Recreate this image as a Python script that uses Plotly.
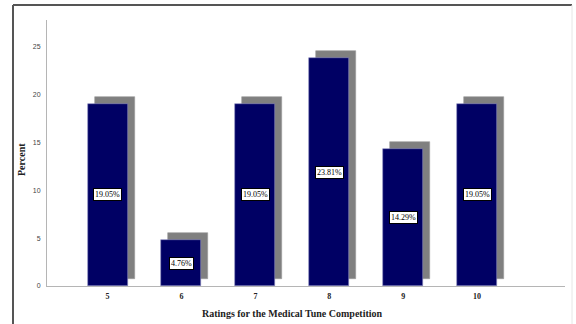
import plotly.graph_objects as go

# Ratings and their share of responses
ratings = [5, 6, 7, 8, 9, 10]
percents = [19.05, 4.76, 19.05, 23.81, 14.29, 19.05]
tick_vals = [0, 5, 10, 15, 20, 25]

x_title = "Ratings for the Medical Tune Competition"
y_title = "Percent"

W, H = 576, 324
L, R, T, B = 47, 11, 20, 38
plot_w = W - L - R
plot_h = H - T - B

x_range = [4.18, 11.19]
y_range = [0, 27.82]
px_per_x = plot_w / (x_range[1] - x_range[0])
px_per_y = plot_h / (y_range[1] - y_range[0])

bar_w = 40 / px_per_x
shadow_dx = 7 / px_per_x
shadow_dy = 7 / px_per_y

fig = go.Figure()

# drop shadow behind each bar
fig.add_trace(go.Bar(
    x=ratings, y=percents, base=[shadow_dy] * len(ratings),
    width=bar_w, offset=-bar_w / 2 + shadow_dx,
    marker=dict(color="#808080", line=dict(color="#9a9a9a", width=0.6)),
    hoverinfo="skip", showlegend=False,
))

# main bars
fig.add_trace(go.Bar(
    x=ratings, y=percents,
    width=bar_w, offset=-bar_w / 2,
    marker=dict(color="#000064", line=dict(color="#8c8cc0", width=0.6)),
    showlegend=False,
))

# value labels in the middle of each bar
for r, p in zip(ratings, percents):
    fig.add_annotation(
        x=r, y=p / 2, text=f"{p:.2f}%", showarrow=False,
        font=dict(family="Liberation Serif", size=8, color="black"),
        bgcolor="white", bordercolor="black", borderwidth=1, borderpad=1,
    )

# axis titles
fig.add_annotation(
    x=(292 - L) / plot_w, y=(H - B - 314) / plot_h, xref="paper", yref="paper",
    xanchor="center", yanchor="middle",
    text=f"<b>{x_title}</b>", showarrow=False,
    font=dict(family="Liberation Serif", size=10, color="#222"),
)
fig.add_annotation(
    x=(21 - L) / plot_w, y=(H - B - 160) / plot_h, xref="paper", yref="paper",
    xanchor="center", yanchor="middle",
    text=f"<b>{y_title}</b>", showarrow=False, textangle=-90,
    font=dict(family="Liberation Serif", size=10, color="#222"),
)

# outer frame
fx0 = (13 - L) / plot_w
fx1 = (572 - L) / plot_w
fy1 = (H - B - 5) / plot_h
fy0 = (H - B - 330) / plot_h
fig.add_shape(type="line", xref="paper", yref="paper", x0=fx0, x1=fx1, y0=fy1, y1=fy1,
              line=dict(color="#555555", width=2))
fig.add_shape(type="line", xref="paper", yref="paper", x0=fx0, x1=fx0, y0=fy0, y1=fy1,
              line=dict(color="#555555", width=2))
fig.add_shape(type="line", xref="paper", yref="paper", x0=fx1, x1=fx1, y0=fy0, y1=fy1,
              line=dict(color="#e6e6e6", width=1))

fig.update_layout(
    width=W, height=H,
    margin=dict(l=L, r=R, t=T, b=B, pad=0),
    paper_bgcolor="white", plot_bgcolor="white",
    barmode="overlay",
    bargap=0,
)
fig.update_xaxes(
    range=x_range, tickvals=ratings, ticktext=[f"<b>{r}</b>" for r in ratings],
    showgrid=False, zeroline=False, showline=True, linecolor="#b5b5b5", linewidth=1,
    ticks="outside", ticklen=2, tickcolor="rgba(0,0,0,0)",
    tickfont=dict(family="Liberation Serif", size=8, color="#222"),
)
fig.update_yaxes(
    range=y_range, tickvals=tick_vals,
    showgrid=False, zeroline=False, showline=True, linecolor="#b5b5b5", linewidth=1,
    ticks="outside", ticklen=4, tickcolor="rgba(0,0,0,0)",
    tickfont=dict(family="Liberation Sans", size=7, color="#444"),
)

fig.write_html("out.html")
